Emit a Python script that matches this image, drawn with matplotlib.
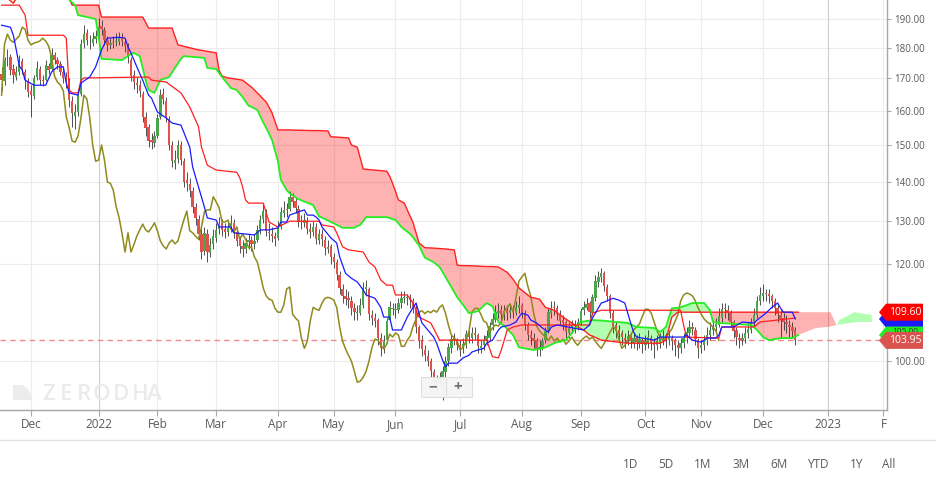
import numpy as np
import matplotlib
matplotlib.use("Agg")
import matplotlib.pyplot as plt
from matplotlib import transforms as mtransforms
from matplotlib.patches import Polygon, Rectangle
from matplotlib.lines import Line2D
from matplotlib.ticker import FixedLocator, FixedFormatter, NullLocator, NullFormatter

plt.rcParams['font.family'] = ['Open Sans', 'DejaVu Sans']

# ---------------- data ----------------
# daily sessions (evenly spaced): bar 0 = 16 Nov 2021 ... bar 270 = 16 Dec 2022
opens = [
    171.5, 169.0, 176.5, 177.0, 173.0, 170.5, 172.0, 175.5, 172.0, 169.0,
    166.0, 164.5, 170.5, 173.0, 169.5, 169.5, 174.0, 173.0, 177.5, 176.0,
    174.5, 172.0, 170.5, 169.0, 163.0, 158.5, 159.5, 165.0, 181.5, 185.0,
    182.0, 181.5, 183.0, 184.0, 187.5, 186.0, 182.5, 181.0, 181.5, 182.0,
    182.0, 183.5, 182.0, 180.5, 176.0, 171.0, 168.5, 168.0, 165.0, 158.0,
    155.0, 151.5, 150.5, 152.5, 158.0, 165.0, 163.0, 157.5, 150.0, 145.0,
    146.0, 150.0, 145.5, 140.5, 139.5, 137.5, 133.5, 130.5, 127.0, 123.0,
    127.0, 122.5, 124.5, 126.0, 128.0, 129.5, 128.0, 127.5, 128.5, 129.5,
    127.5, 125.5, 124.0, 123.5, 125.0, 125.5, 124.5, 125.5, 128.0, 130.5,
    132.0, 127.5, 127.0, 126.5, 126.0, 128.5, 132.0, 133.0, 133.0, 136.0,
    135.0, 133.0, 130.0, 129.5, 130.0, 128.0, 127.5, 128.5, 125.5, 127.0,
    125.5, 123.5, 124.0, 121.5, 120.5, 117.5, 114.5, 113.0, 112.5, 112.0,
    110.5, 109.5, 109.5, 111.0, 114.5, 114.5, 109.0, 108.5, 108.0, 104.5,
    102.5, 104.0, 108.0, 110.5, 110.0, 110.0, 111.5, 112.5, 112.5, 112.5,
    112.0, 110.5, 106.5, 104.0, 102.0, 101.0, 100.0, 98.0, 96.0, 96.5,
    97.0, 98.0, 100.0, 102.5, 104.5, 104.0, 103.0, 102.5, 103.0, 105.5,
    104.5, 105.5, 105.0, 102.5, 103.0, 104.0, 104.5, 107.0, 108.0, 109.5,
    110.0, 109.0, 110.0, 109.5, 110.0, 109.5, 110.5, 111.0, 109.5, 107.0,
    105.0, 104.5, 104.0, 102.0, 102.5, 104.0, 106.0, 109.5, 110.5, 110.5,
    109.0, 108.0, 107.5, 105.5, 106.5, 107.0, 106.5, 107.5, 110.0, 110.5,
    111.5, 109.5, 112.5, 116.0, 117.0, 118.0, 115.0, 113.0, 109.5, 107.0,
    106.0, 105.5, 104.5, 104.0, 105.0, 103.5, 104.5, 103.5, 104.0, 103.0,
    103.5, 104.5, 103.5, 103.0, 103.5, 104.5, 105.0, 104.0, 104.5, 104.0,
    103.0, 102.5, 103.5, 104.5, 105.5, 106.5, 106.0, 104.0, 102.5, 103.0,
    104.0, 105.0, 106.0, 106.5, 107.0, 108.5, 110.5, 110.0, 109.5, 107.5,
    106.0, 104.5, 104.0, 104.5, 105.5, 106.0, 107.5, 109.0, 112.0, 113.0,
    113.5, 113.5, 113.0, 112.0, 110.5, 109.0, 108.5, 107.5, 107.0, 106.5,
    106.0]
highs = [
    173.5, 177.0, 179.5, 178.0, 174.5, 174.0, 177.5, 176.5, 173.0, 170.0,
    168.0, 171.0, 175.5, 174.0, 171.0, 176.0, 175.0, 180.0, 178.5, 177.0,
    175.5, 173.0, 172.0, 170.0, 164.5, 162.0, 166.0, 183.0, 188.0, 186.5,
    184.5, 185.5, 186.0, 190.5, 189.5, 187.0, 184.0, 183.5, 184.0, 185.0,
    185.5, 185.0, 183.5, 181.5, 177.0, 172.5, 170.5, 169.5, 166.0, 159.5,
    156.0, 153.5, 154.0, 159.0, 166.5, 167.0, 164.0, 158.5, 151.0, 148.5,
    151.5, 151.0, 146.5, 142.5, 141.0, 138.5, 134.5, 131.5, 128.0, 128.5,
    128.0, 126.0, 128.0, 129.5, 131.0, 130.5, 129.5, 130.0, 131.5, 130.5,
    128.5, 126.5, 125.5, 126.0, 127.0, 126.5, 127.0, 129.0, 131.5, 134.5,
    133.0, 129.5, 128.5, 127.5, 130.0, 133.5, 135.0, 134.5, 137.5, 137.0,
    136.0, 134.0, 131.5, 132.0, 131.0, 129.5, 130.0, 129.5, 128.0, 128.0,
    126.5, 125.5, 124.5, 122.5, 121.0, 118.5, 115.5, 114.5, 114.0, 113.0,
    111.5, 111.0, 112.5, 116.0, 116.5, 115.0, 110.0, 109.5, 108.5, 105.5,
    105.0, 108.5, 112.0, 111.5, 111.5, 112.5, 114.0, 114.0, 113.5, 113.5,
    112.5, 111.0, 107.0, 105.0, 103.0, 102.0, 100.5, 98.5, 97.5, 98.0,
    99.0, 101.0, 103.5, 105.0, 105.5, 104.5, 104.0, 104.5, 106.0, 106.0,
    106.5, 106.5, 105.5, 104.0, 105.0, 106.0, 107.5, 109.5, 111.0, 111.5,
    111.0, 111.0, 111.0, 111.5, 111.0, 112.0, 113.0, 111.5, 110.0, 107.5,
    106.0, 105.5, 104.5, 104.0, 104.5, 106.5, 110.5, 112.0, 112.0, 111.0,
    110.0, 109.0, 108.0, 107.5, 108.0, 108.0, 108.5, 110.5, 112.0, 112.5,
    112.0, 113.5, 117.5, 118.5, 119.0, 118.5, 115.5, 113.5, 110.0, 107.5,
    107.0, 106.0, 105.5, 106.0, 105.5, 105.5, 105.0, 105.5, 104.5, 105.0,
    106.0, 105.0, 104.5, 105.0, 105.5, 106.0, 105.5, 106.0, 105.0, 104.5,
    104.0, 104.5, 105.5, 106.5, 108.0, 107.5, 106.5, 104.5, 104.0, 105.0,
    106.5, 107.5, 108.0, 108.5, 110.5, 111.5, 111.5, 111.0, 110.0, 108.0,
    106.5, 105.5, 105.5, 106.5, 107.5, 108.5, 110.5, 113.0, 115.0, 115.5,
    114.5, 114.5, 113.5, 112.5, 111.0, 110.0, 109.5, 109.0, 108.0, 107.5,
    106.5]
lows = [
    166.0, 168.0, 174.0, 171.0, 168.5, 169.5, 171.0, 171.5, 166.5, 164.0,
    158.0, 163.5, 169.5, 168.0, 167.5, 169.0, 171.5, 172.5, 174.5, 173.0,
    171.0, 168.5, 167.0, 161.0, 155.0, 154.5, 158.5, 164.5, 180.0, 181.0,
    179.5, 180.5, 181.5, 183.0, 184.5, 181.0, 179.0, 179.5, 180.0, 180.5,
    181.0, 180.5, 178.5, 175.0, 169.0, 166.5, 165.5, 164.0, 156.5, 152.5,
    149.5, 149.0, 149.5, 152.0, 157.5, 162.0, 156.5, 148.5, 144.0, 143.5,
    145.0, 144.5, 138.5, 137.5, 136.0, 132.0, 129.0, 125.5, 121.0, 122.0,
    120.5, 121.5, 123.5, 125.0, 127.0, 126.5, 126.0, 126.5, 127.5, 126.0,
    124.0, 122.5, 121.5, 122.5, 123.5, 123.0, 123.5, 125.0, 127.0, 129.5,
    126.5, 125.5, 125.0, 124.0, 125.5, 128.0, 131.0, 131.0, 132.5, 133.5,
    132.0, 128.5, 128.0, 128.5, 127.0, 126.0, 126.5, 124.5, 124.5, 124.0,
    122.0, 122.5, 120.0, 119.0, 116.5, 113.5, 111.5, 111.0, 110.5, 109.0,
    108.0, 108.0, 109.0, 110.5, 113.0, 108.0, 107.0, 106.5, 103.0, 101.0,
    101.5, 103.5, 107.5, 109.0, 108.5, 109.5, 110.5, 111.5, 111.0, 110.5,
    109.5, 105.5, 102.5, 101.0, 100.0, 99.0, 97.0, 95.0, 94.5, 95.5,
    93.0, 97.0, 99.0, 101.5, 103.0, 102.0, 101.0, 101.5, 102.5, 103.5,
    103.5, 104.0, 101.5, 101.5, 102.0, 103.0, 104.0, 106.0, 107.5, 108.5,
    108.0, 108.0, 108.0, 108.5, 108.5, 109.0, 109.5, 108.5, 106.0, 104.0,
    103.0, 102.5, 101.0, 101.0, 102.0, 103.5, 105.5, 108.5, 109.0, 108.0,
    107.0, 106.0, 104.5, 104.5, 105.5, 105.5, 106.0, 107.0, 109.0, 110.0,
    108.5, 109.0, 112.0, 115.0, 116.0, 114.0, 112.0, 108.5, 105.5, 104.5,
    104.0, 103.0, 102.5, 103.0, 102.5, 102.5, 102.0, 102.5, 101.5, 102.0,
    102.5, 102.0, 100.5, 102.0, 102.5, 103.0, 102.5, 103.0, 102.0, 101.0,
    100.5, 101.5, 102.5, 103.5, 104.5, 105.0, 103.0, 100.5, 101.5, 102.0,
    103.0, 104.0, 105.0, 105.5, 106.5, 107.5, 108.5, 108.0, 106.5, 104.5,
    103.0, 102.5, 103.0, 103.5, 104.5, 105.5, 106.5, 108.5, 111.0, 112.0,
    112.0, 111.5, 110.5, 109.0, 107.5, 104.5, 106.0, 105.5, 104.5, 104.5,
    103.0]
closes = [
    169.4, 175.9, 176.6, 172.7, 171.0, 172.0, 175.3, 172.7, 169.4, 165.7,
    164.7, 170.1, 173.3, 169.4, 169.1, 174.3, 172.7, 177.6, 175.9, 174.6,
    172.0, 170.1, 169.4, 163.2, 159.3, 159.6, 164.7, 181.3, 184.7, 182.6,
    181.9, 183.0, 184.0, 187.1, 186.4, 182.6, 181.0, 181.6, 181.9, 182.3,
    183.3, 182.3, 180.6, 176.9, 170.7, 168.8, 167.9, 166.0, 158.1, 154.9,
    151.1, 150.8, 152.5, 157.8, 164.7, 163.5, 157.8, 150.0, 145.5, 145.8,
    150.0, 145.8, 139.9, 139.6, 137.8, 133.5, 130.8, 126.9, 122.7, 127.2,
    122.7, 124.4, 126.4, 127.9, 129.3, 127.9, 127.4, 128.4, 129.6, 127.7,
    125.3, 124.1, 123.4, 124.8, 125.5, 124.6, 125.3, 127.9, 130.3, 132.5,
    127.7, 127.2, 126.4, 125.7, 128.6, 132.3, 132.8, 132.8, 136.1, 134.8,
    133.3, 129.8, 129.8, 130.3, 128.1, 127.4, 128.6, 125.7, 126.9, 125.7,
    123.7, 123.9, 121.6, 120.4, 117.7, 114.7, 113.0, 112.3, 112.1, 110.4,
    109.6, 109.6, 111.1, 114.5, 114.9, 109.2, 108.4, 107.8, 104.4, 102.4,
    103.8, 107.8, 110.6, 110.2, 110.0, 111.5, 112.5, 112.7, 112.5, 112.1,
    110.6, 106.6, 103.8, 102.3, 101.1, 100.0, 98.1, 96.1, 96.3, 97.0,
    98.1, 100.0, 102.6, 104.2, 104.0, 103.0, 102.3, 103.2, 105.2, 104.6,
    105.4, 105.0, 102.8, 102.8, 104.0, 104.8, 106.8, 108.2, 109.6, 109.9,
    109.3, 109.8, 109.5, 110.0, 109.6, 110.6, 111.1, 109.4, 107.0, 105.0,
    104.4, 103.8, 102.1, 102.6, 103.8, 105.8, 109.6, 110.4, 110.4, 109.2,
    107.8, 107.4, 105.6, 106.4, 107.0, 106.8, 107.6, 109.8, 110.6, 111.3,
    109.6, 112.7, 116.2, 117.1, 117.9, 115.1, 113.0, 109.4, 106.8, 105.8,
    105.2, 104.6, 104.0, 104.8, 103.8, 104.4, 103.6, 104.2, 103.2, 103.8,
    104.6, 103.6, 103.0, 103.8, 104.4, 104.8, 104.2, 104.6, 103.8, 103.0,
    102.4, 103.4, 104.4, 105.6, 106.6, 106.2, 104.2, 102.4, 103.0, 104.0,
    105.0, 106.0, 106.6, 107.2, 108.8, 110.2, 110.2, 109.4, 107.6, 105.8,
    104.6, 104.0, 104.4, 105.4, 106.2, 107.6, 109.0, 111.9, 113.2, 113.6,
    113.4, 113.0, 111.9, 110.4, 109.2, 108.2, 107.6, 107.2, 106.6, 105.8,
    103.95]

lag_bars = 26  # lagging span displacement (sessions)

# Conversion line (vertices: session number, value)
tenkan_bar = [0, 3, 4, 5, 6, 7, 8, 11, 15, 17, 19, 21, 22, 23, 26, 27, 30, 32, 34, 36,
              40, 42, 43, 44, 46, 48, 50, 51, 53, 56, 58, 61, 64, 65, 67, 69, 70, 73, 74, 78,
              79, 86, 88, 91, 94, 95, 97, 98, 101, 103, 104, 106, 107, 108, 109, 112, 114, 115, 117, 119,
              121, 123, 124, 127, 129, 130, 132, 133, 136, 138, 140, 141, 142, 143, 145, 147, 148, 150, 151, 152,
              155, 157, 159, 160, 162, 164, 165, 167, 169, 170, 173, 175, 176, 177, 179, 180, 182, 184, 186, 187,
              189, 198, 200, 201, 204, 205, 208, 210, 212, 213, 214, 215, 216, 218, 222, 224, 232, 233, 235, 238,
              240, 243, 244, 245, 249, 252, 256, 257, 260, 262, 264, 265, 266, 269, 270]
tenkan = [187.8, 187.1, 184.3, 179.3, 174.0, 172.7, 169.4, 167.8, 167.8, 172.0, 173.7, 173.7, 168.5, 165.4, 164.7, 168.5, 170.4, 173.7, 179.3, 183.3,
          183.6, 183.3, 180.3, 178.3, 173.7, 169.4, 164.7, 163.8, 159.6, 157.8, 156.3, 155.7, 149.4, 143.9, 138.6, 133.5, 130.8, 130.3, 128.6, 128.6,
          127.2, 126.7, 127.9, 127.9, 128.4, 129.8, 129.8, 131.5, 132.3, 132.8, 131.5, 131.5, 131.0, 130.3, 128.6, 126.0, 124.8, 121.6, 117.9, 116.8,
          116.0, 114.3, 113.2, 112.5, 110.6, 108.6, 108.6, 106.0, 106.0, 108.6, 110.6, 111.5, 109.4, 107.4, 106.0, 104.6, 103.4, 100.2, 98.9, 99.6,
          99.6, 100.6, 101.1, 101.7, 102.1, 102.4, 103.4, 104.0, 106.0, 106.6, 107.0, 107.6, 108.6, 109.4, 109.0, 108.0, 107.4, 106.4, 105.6, 106.6,
          107.0, 106.0, 107.0, 108.4, 111.5, 111.7, 112.5, 112.1, 111.5, 109.4, 107.4, 105.6, 104.6, 104.4, 104.0, 104.6, 104.6, 105.0, 104.0, 103.6,
          104.4, 104.4, 105.0, 106.6, 106.6, 107.6, 107.4, 108.0, 109.4, 110.6, 111.5, 110.4, 109.6, 109.6, 108.2]

# Base line
kijun_bar = [0, 6, 8, 9, 21, 22, 23, 24, 26, 27, 28, 50, 51, 56, 61, 64, 67, 68, 70, 73,
             80, 81, 82, 83, 84, 89, 91, 94, 98, 108, 109, 113, 114, 116, 118, 123, 125, 127, 129, 131,
             133, 134, 138, 140, 142, 146, 149, 165, 167, 169, 170, 172, 174, 177, 200, 201, 204, 231, 232, 233,
             244, 245, 256, 258, 270]
kijun = [195.0, 195.0, 191.4, 184.3, 184.3, 183.3, 166.3, 165.4, 165.4, 169.4, 170.1, 170.4, 169.4, 168.8, 165.4, 161.1, 155.2, 149.4, 144.4, 143.1,
         142.5, 141.1, 138.6, 135.3, 134.5, 134.5, 129.8, 128.6, 130.0, 130.0, 129.1, 128.6, 127.2, 123.9, 123.2, 122.7, 120.4, 119.3, 116.4, 115.3,
         115.3, 113.2, 113.2, 111.5, 108.6, 107.4, 104.0, 104.0, 100.8, 100.6, 102.1, 106.0, 106.6, 107.0, 107.0, 109.4, 110.0, 110.0, 107.0, 104.6,
         104.4, 106.6, 106.6, 107.6, 108.4]

# Leading spans (projected 26 sessions ahead) on a shared session grid
cloud_bar = [0, 2, 4, 5, 7, 21, 23, 24, 25, 26, 32, 33, 34, 41, 44, 45, 47, 48, 49, 50,
             52, 54, 57, 58, 60, 61, 62, 67, 69, 70, 73, 74, 75, 77, 78, 80, 82, 84, 85, 87,
             89, 90, 91, 92, 94, 95, 97, 98, 101, 106, 108, 111, 112, 113, 116, 118, 119, 120, 121, 122,
             123, 124, 131, 132, 133, 134, 135, 136, 137, 138, 139, 140, 142, 144, 147, 149, 151, 154, 155, 157,
             159, 162, 165, 167, 169, 171, 172, 174, 176, 180, 181, 183, 185, 188, 189, 191, 192, 194, 197, 198,
             200, 201, 204, 213, 216, 222, 224, 226, 228, 230, 231, 235, 239, 241, 242, 244, 255, 257, 259, 261,
             265, 269, 271, 277, 281, 282, 284, 285, 290, 291, 292, 296]
span_a = [206.0, 206.0, 206.0, 206.0, 200.0, 200.0, 197.0, 196.0, 195.0, 191.4, 190.0, 184.0, 176.3, 175.9, 177.9, 178.3, 177.2, 173.3, 169.4, 166.3,
          165.4, 169.4, 170.4, 171.9, 174.8, 176.3, 177.2, 176.8, 176.6, 173.3, 173.0, 171.7, 170.4, 168.1, 166.9, 166.3, 164.1, 161.5, 161.1, 160.2,
          156.5, 154.9, 153.2, 151.4, 145.5, 140.5, 137.8, 137.0, 135.5, 134.0, 131.2, 130.2, 129.8, 129.5, 128.4, 128.4, 128.4, 128.4, 128.8, 129.1,
          130.0, 131.0, 131.0, 130.8, 130.5, 130.3, 129.5, 128.6, 128.0, 127.5, 126.9, 126.1, 124.2, 121.4, 120.4, 119.3, 117.1, 113.8, 112.7, 111.1,
          109.4, 109.8, 111.5, 110.8, 107.6, 106.8, 106.2, 105.0, 102.6, 102.2, 102.1, 102.3, 102.6, 103.4, 103.6, 103.9, 104.0, 105.4, 107.6, 107.7,
          107.9, 108.0, 107.9, 107.4, 106.6, 106.4, 105.6, 106.6, 110.4, 110.5, 110.6, 111.5, 111.5, 110.0, 107.6, 107.4, 107.0, 106.0, 104.6, 104.0,
          104.4, 104.4, 105.0, 106.4, 106.6, 106.7, 107.0, 108.0, 109.6, 109.5, 109.4, 109.0]
span_b = [201.0, 197.5, 195.7, 197.5, 202.0, 202.0, 197.5, 195.0, 195.0, 195.0, 195.0, 195.0, 190.7, 190.7, 190.7, 190.7, 190.7, 190.7, 188.8, 186.8,
          186.8, 186.8, 186.8, 186.8, 181.0, 180.8, 180.5, 179.3, 179.0, 178.8, 178.3, 172.5, 170.7, 170.1, 170.0, 169.7, 169.4, 167.9, 167.2, 165.4,
          163.5, 162.6, 161.0, 159.3, 154.3, 154.3, 154.3, 154.3, 154.2, 154.1, 154.1, 154.0, 152.3, 152.3, 152.1, 152.0, 150.0, 149.7, 149.4, 146.4,
          143.4, 143.3, 142.8, 141.5, 139.6, 137.5, 135.3, 134.9, 134.5, 132.8, 131.2, 129.6, 124.8, 123.7, 123.6, 123.5, 123.4, 123.2, 119.7, 119.6,
          119.6, 119.5, 119.4, 119.4, 119.3, 118.5, 118.1, 116.6, 114.7, 112.7, 112.6, 112.3, 110.6, 110.0, 109.5, 108.6, 108.2, 107.4, 106.3, 106.0,
          105.0, 104.8, 104.0, 103.4, 103.4, 103.4, 103.4, 104.0, 108.6, 109.6, 109.6, 109.6, 109.6, 109.6, 109.6, 109.6, 109.6, 109.6, 109.6, 109.6,
          109.6, 109.6, 109.6, 109.6, 109.6, 109.6, 107.0, 107.1, 107.5, 107.6, 107.6, 107.6]

month_bar = [10, 33, 53, 73, 94, 113, 134, 156, 177, 197, 219, 238, 259, 281, 300]
month_label = ["Dec", "2022", "Feb", "Mar", "Apr", "May", "Jun", "Jul", "Aug", "Sep",
               "Oct", "Nov", "Dec", "2023", "F"]
year_bar = [33, 281]
price_ticks = [100, 120, 130, 140, 150, 160, 170, 180, 190]
range_buttons = ["1D", "5D", "1M", "3M", "6M", "YTD", "1Y", "All"]
brand = "ZERODHA"

# ---------------- figure ----------------
W, H = 936, 478
fig = plt.figure(figsize=(W / 100, H / 100), dpi=100, facecolor="white")
ax = fig.add_axes([0, 68 / H, 887 / W, 410 / H])
ax.set_facecolor("white")
ax.set_yscale("log")
ax.set_ylim(91.22, 196.9)
ax.set_xlim(-0.54, 301.2)

o = np.array(opens); h = np.array(highs); l = np.array(lows); c = np.array(closes)
n = np.arange(len(c))
assert len(o) == len(h) == len(l) == len(c)
assert len(tenkan_bar) == len(tenkan) and len(kijun_bar) == len(kijun)
assert len(cloud_bar) == len(span_a) == len(span_b)
last_bar = n[-1]

# grid
for v in price_ticks:
    ax.axhline(v, color="#ebebeb", lw=0.8, zorder=0)
for b in month_bar:
    col = "#cdcdcd" if b in year_bar else "#ececec"
    ax.axvline(b, color=col, lw=0.8, zorder=0)

# cloud
cb = np.array(cloud_bar, float); A = np.array(span_a); B = np.array(span_b)
ax.fill_between(cb, A, B, where=B >= A, interpolate=True, color=(1, 0, 0, 0.3), lw=0, zorder=1)
ax.fill_between(cb, A, B, where=A > B, interpolate=True, color=(0, 1, 0, 0.3), lw=0, zorder=1)

# last price dashed line
ax.axhline(c[-1], color="#f08a8a", lw=1.0, ls=(0, (4, 3)), zorder=1.5)

# candles
ax.vlines(n, l, h, color="#333333", lw=0.6, zorder=3)
up = c >= o
lo = np.minimum(o, c); hi = np.maximum(o, c)
hgt = np.maximum(hi - lo, 0.2)
ax.bar(n[up], hgt[up], bottom=lo[up], width=0.8, color="#4aa64a", lw=0, zorder=4)
ax.bar(n[~up], hgt[~up], bottom=lo[~up], width=0.8, color="#e2524d", lw=0, zorder=4)

# indicator lines
m = cb <= last_bar + 1
ax.plot(n[lag_bars:] - lag_bars, c[lag_bars:], color="#8f8a1c", lw=1.1, zorder=5)
ax.plot(cb[m], B[m], color="#ff2020", lw=1.0, zorder=5)
ax.plot(cb[m], A[m], color="#22ee22", lw=1.3, zorder=5)
ax.plot(kijun_bar, kijun, color="#ff2020", lw=0.9, zorder=6)
ax.plot(tenkan_bar, tenkan, color="#1a1aff", lw=0.9, zorder=6)

# axes styling
for s in ["left", "top"]:
    ax.spines[s].set_visible(False)
for s in ["right", "bottom"]:
    ax.spines[s].set_color("#a8a8a8")
    ax.spines[s].set_linewidth(1.0)
ax.yaxis.tick_right()
ax.yaxis.set_major_locator(FixedLocator(price_ticks))
ax.yaxis.set_major_formatter(FixedFormatter([f"{v:.2f}" for v in price_ticks]))
ax.yaxis.set_minor_locator(NullLocator())
ax.yaxis.set_minor_formatter(NullFormatter())
ax.tick_params(axis="y", which="major", length=3, width=0.8, color="#a8a8a8",
               labelcolor="#5a5a5a", labelsize=7, pad=2)
ax.set_xticks(month_bar)
ax.set_xticklabels(month_label)
ax.tick_params(axis="x", length=4, width=0.8, color="#a8a8a8", labelcolor="#5a5a5a",
               labelsize=8.5, pad=1.5)

# right-edge value tags
idx_last = int(np.argmax(cb > last_bar))
tags = [(tenkan[-1], "#1a1aff", "", "white", 0),
        (B[idx_last], "#ff0000", f"{B[idx_last]:.2f}", "white", 0),
        (A[idx_last], "#22ee22", f"{A[idx_last]:.2f}", "#333333", 3.5),
        (c[-1], "#d9534f", f"{c[-1]:.2f}", "white", 0)]
ident = mtransforms.IdentityTransform()
for z, (val, col, txt, tcol, tdy) in enumerate(tags):
    yc = ax.transData.transform((0, val))[1]
    x0, x1, x2, hh = 879, 886, 923, 8.5
    poly = Polygon([(x0, yc), (x1, yc + hh), (x2, yc + hh), (x2, yc - hh), (x1, yc - hh)],
                   closed=True, transform=ident, facecolor=col, edgecolor="none",
                   zorder=20 + 2 * z, clip_on=False)
    fig.add_artist(poly)
    if txt:
        fig.text(905 / W, (yc + tdy) / H, txt, color=tcol, fontsize=7.5 if tdy == 0 else 6,
                 ha="center", va="center", zorder=21 + 2 * z)

# watermark
fig.add_artist(Polygon([(13, H - 385), (23, H - 385), (29, H - 390), (32, H - 400), (13, H - 400)],
                       closed=True, transform=ident, facecolor="#ececec", edgecolor="none", zorder=2))
for ch, xp in zip(brand, [42, 60, 77, 93, 113, 132, 147]):
    fig.text(xp / W, (H - 400) / H, ch, color="#ebebeb", fontsize=16, fontweight="semibold",
             ha="left", va="baseline", zorder=2)

# zoom control
fig.add_artist(Rectangle((421, H - 397), 51, 20, transform=ident, facecolor="#f5f5f5",
                         edgecolor="#dddddd", lw=0.8, alpha=0.95, zorder=30))
fig.add_artist(Line2D([445.5, 445.5], [H - 395, H - 379], transform=ident, color="#dddddd",
                      lw=0.8, zorder=31))
fig.text(433 / W, (H - 387) / H, "\u2212", color="#707070", fontsize=11, ha="center",
         va="center", fontweight="bold", zorder=32)
fig.text(458 / W, (H - 387) / H, "+", color="#707070", fontsize=11, ha="center",
         va="center", fontweight="bold", zorder=32)

# footer
fig.add_artist(Line2D([0, W], [H - 440, H - 440], transform=ident, color="#e2e2e2", lw=1.0))
for lab, xp in zip(range_buttons, [631, 666, 703, 741, 779, 818, 857, 889]):
    fig.text(xp / W, (H - 464) / H, lab, color="#5a5a5a", fontsize=8.5, ha="center", va="center")

fig.savefig("out.png", dpi=100, facecolor="white")
